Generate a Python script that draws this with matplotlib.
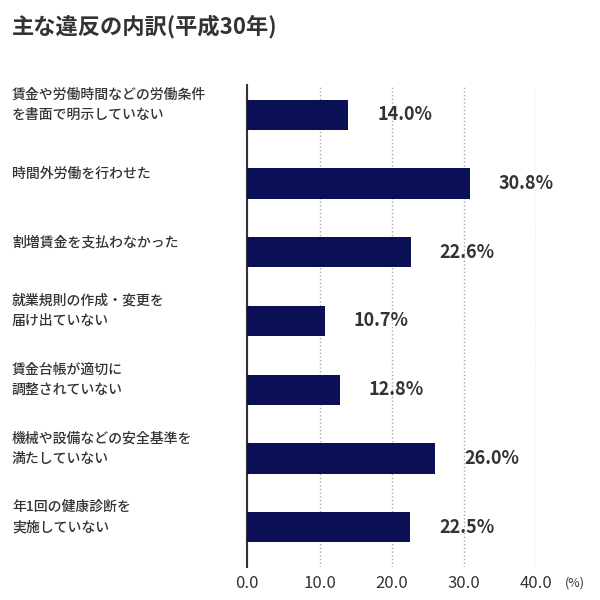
import matplotlib
matplotlib.use("Agg")
import matplotlib.pyplot as plt

plt.rcParams["font.family"] = "Noto Sans CJK JP"

categories = ["賃金や労働時間などの労働条件\nを書面で明示していない",
              "時間外労働を行わせた",
              "割増賃金を支払わなかった",
              "就業規則の作成・変更を\n届け出ていない",
              "賃金台帳が適切に\n調整されていない",
              "機械や設備などの安全基準を\n満たしていない",
              "年1回の健康診断を\n実施していない"]
values = [14.0, 30.8, 22.6, 10.7, 12.8, 26.0, 22.5]
xticks = [0, 10, 20, 30, 40]

fig = plt.figure(figsize=(6, 6), dpi=100)
ax = fig.add_axes([0.412, 0.055, 0.482, 0.804])
y = list(range(len(values)))
ax.barh(y, values, height=0.44, color="#0b0f55", zorder=3)
ax.set_ylim(6.58, -0.44)
ax.set_xlim(0, 40)
ax.set_xticks(xticks)
ax.set_xticklabels([f"{t:.1f}" for t in xticks], fontsize=12, color="#333333")
ax.set_yticks([])
ax.grid(axis="x", linestyle=":", color="#aaaaaa", linewidth=1)
for s in ["top", "right", "bottom"]:
    ax.spines[s].set_visible(False)
ax.spines["left"].set_color("#333333")
ax.spines["left"].set_linewidth(1.5)
ax.tick_params(axis="x", length=0, pad=6)
for yi, v in zip(y, values):
    ax.annotate(f"{v:.1f}%", (v, yi), xytext=(21, 0), textcoords="offset points",
                va="center", ha="left", fontsize=13, fontweight="bold", color="#333333")
    fig.text(12/600, 1 - (105 + yi*68.7)/600, categories[yi], ha="left", va="center",
             fontsize=10, fontweight="medium", color="#333333", linespacing=1.6)
fig.text(565/600, 1-583/600, "(%)", fontsize=9, color="#333333", va="center", ha="left")
fig.text(12/600, 1-27/600, "主な違反の内訳(平成30年)", fontsize=16, fontweight="bold",
         color="#333333", va="center", ha="left")
fig.savefig("out.png")
